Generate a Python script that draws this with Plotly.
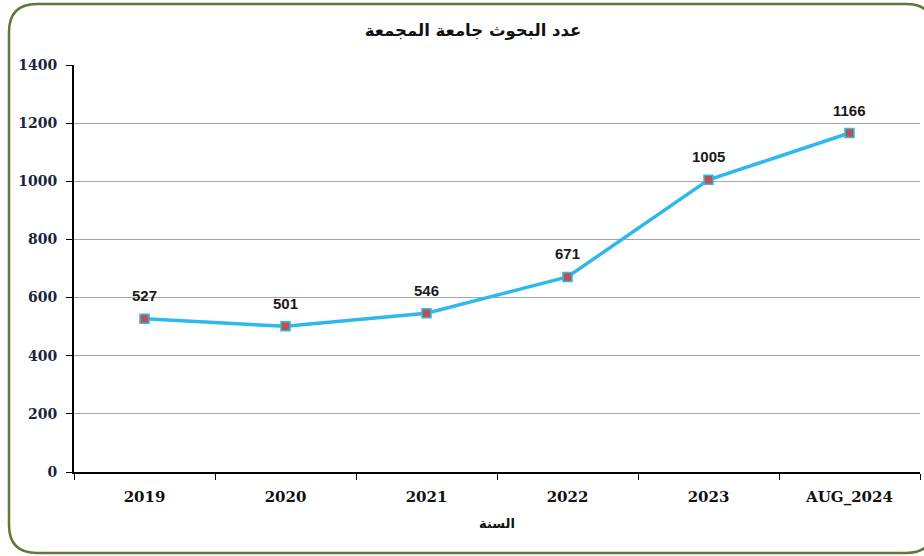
import plotly.graph_objects as go

years = ["2019", "2020", "2021", "2022", "2023", "AUG_2024"]
counts = [527, 501, 546, 671, 1005, 1166]
y_ticks = [0, 200, 400, 600, 800, 1000, 1200, 1400]

title_text = "عدد البحوث جامعة المجمعة"
x_title = "السنة"

W, H = 924, 556
L, R, T, B = 74, 4, 65, 84
pw, ph = W - L - R, H - T - B

def px(x):
    return (x - L) / pw

def py(y):
    return (H - B - y) / ph

fig = go.Figure()
fig.add_trace(go.Scatter(
    x=years, y=counts, mode="lines+markers",
    line=dict(color="#2fb8ea", width=3.5),
    marker=dict(symbol="square", size=9, color="#c0504d", line=dict(color="#2fb8ea", width=1.5)),
    cliponaxis=False, showlegend=False,
))

for i, v in enumerate(counts):
    fig.add_annotation(x=i, y=v, xref="x", yref="y", text=str(v), showarrow=False, yshift=23,
                       font=dict(family="Liberation Sans", size=15, color="#1a1a1a", weight="bold"))

# rounded green frame
x0, x1, y0, y1, r = 9, 934, 4, 553, 28
path = (f"M {px(x0+r)},{py(y0)} L {px(x1-r)},{py(y0)} Q {px(x1)},{py(y0)} {px(x1)},{py(y0+r)} "
        f"L {px(x1)},{py(y1-r)} Q {px(x1)},{py(y1)} {px(x1-r)},{py(y1)} "
        f"L {px(x0+r)},{py(y1)} Q {px(x0)},{py(y1)} {px(x0)},{py(y1-r)} "
        f"L {px(x0)},{py(y0+r)} Q {px(x0)},{py(y0)} {px(x0+r)},{py(y0)} Z")
fig.add_shape(type="path", path=path, xref="paper", yref="paper",
              line=dict(color="#5b7a38", width=2.5), layer="above")

fig.update_layout(
    width=W, height=H,
    margin=dict(l=L, r=R, t=T, b=B),
    paper_bgcolor="white", plot_bgcolor="white",
    title=dict(text=title_text, x=px(473), xref="paper", xanchor="center",
               y=1 - 30 / H, yanchor="middle",
               font=dict(family="DejaVu Sans", size=16.5, color="#111", weight="bold")),
    xaxis=dict(
        type="category", range=[-0.5, 5.5], tickson="boundaries",
        ticks="outside", ticklen=6, tickcolor="black",
        showline=True, linecolor="black", linewidth=2,
        showgrid=False, ticklabelstandoff=10,
        tickfont=dict(family="DejaVu Serif", size=15, color="#111", weight="bold"),
        title=dict(text=x_title, standoff=14,
                   font=dict(family="DejaVu Sans", size=13, color="#111", weight="bold")),
    ),
    yaxis=dict(
        range=[0, 1400], tickvals=y_ticks,
        ticks="outside", ticklen=6, tickcolor="black",
        showline=True, linecolor="black", linewidth=2,
        showgrid=True, gridcolor="#a6a6a6", gridwidth=1,
        zeroline=False, ticklabelstandoff=6,
        tickfont=dict(family="DejaVu Serif", size=14, color="#1c2440", weight="bold"),
    ),
)

fig.write_html("out.html", config={"displayModeBar": False},
               post_script="document.body.style.margin='0';document.body.style.overflow='hidden';")
